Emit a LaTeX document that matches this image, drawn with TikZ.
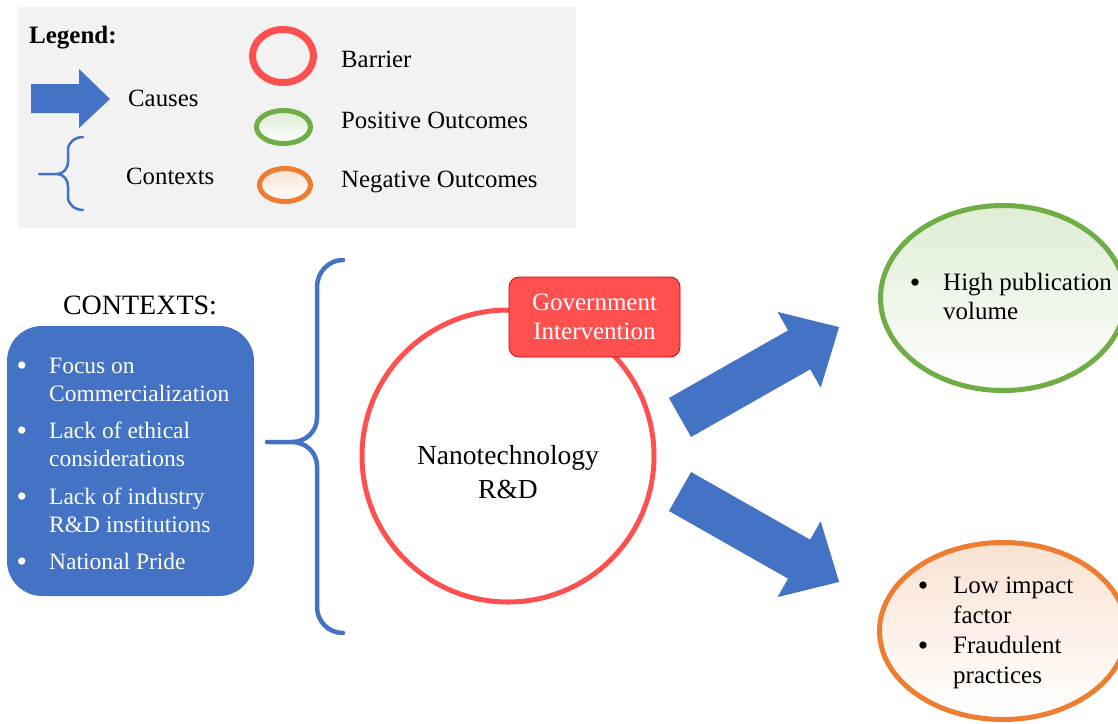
\documentclass[tikz,border=0pt]{standalone}
\usepackage{fontspec}
\setmainfont{Liberation Serif}
\usetikzlibrary{shapes.geometric,positioning,calc}
\definecolor{boxblue}{RGB}{68,114,196}
\definecolor{barred}{RGB}{255,80,80}
\definecolor{posgreen}{RGB}{112,173,71}
\definecolor{negorange}{RGB}{237,125,49}
\definecolor{legendgray}{RGB}{242,242,242}
\definecolor{posfill}{RGB}{222,237,212}
\definecolor{negfill}{RGB}{250,226,210}

\begin{document}
\begin{tikzpicture}[x=1pt,y=-1pt,
    lbl/.style={font=\fontsize{24.8}{28}\selectfont,inner sep=0pt,anchor=base west},
    ctxt/.style={font=\fontsize{23.5}{28}\selectfont,inner sep=0pt,anchor=base west,text=white},
    outtxt/.style={font=\fontsize{25}{30}\selectfont,inner sep=0pt,anchor=base west},
    dot/.style={font=\fontsize{30}{32}\selectfont,inner sep=0pt,anchor=base},
    bracket/.style={boxblue,line cap=round}]
  \useasboundingbox (0,0) rectangle (1118,723);
  \clip (0,0) rectangle (1118,723);

  % legend
  \fill[legendgray] (18,7) rectangle (576,228);
  \node[lbl,font=\fontsize{25}{28}\selectfont\bfseries] (leg) at (29,43) {Legend:};
  \fill[boxblue] (31,84) -- (79,84) -- (79,69) -- (110,99) -- (79,128) -- (79,113) -- (31,113) -- cycle;
  \node[lbl] (causes) at (128,106) {Causes};
  \draw[bracket,line width=2.5pt] (83,137) to[out=180,in=90] (68,150) -- (68,162) to[out=-90,in=0] (57,174) -- (39,174)
    (57,174) to[out=0,in=90] (68,186) -- (68,197) to[out=-90,in=180] (83,210);
  \node[lbl] (contexts) at (126,184) {Contexts};
  \node[ellipse,draw=barred,line width=7pt,minimum width=61,minimum height=53] (legbar) at (283,56) {};
  \node[ellipse,draw=posgreen,line width=5pt,minimum width=54,minimum height=33,top color=posfill,bottom color=white] (legpos) at (283.5,127) {};
  \node[ellipse,draw=negorange,line width=5pt,minimum width=51,minimum height=33,top color=negfill,bottom color=white] (legneg) at (285,185) {};
  \node[lbl] (barrier) at (341,67) {Barrier};
  \node[lbl] (positive) at (341,128) {Positive Outcomes};
  \node[lbl] (negative) at (341,187) {Negative Outcomes};

  % contexts
  \node[font=\fontsize{28}{32}\selectfont,inner sep=0pt,anchor=base] (ctxhead) at (140,314) {CONTEXTS:};
  \node[fill=boxblue,rounded corners=35pt,minimum width=247,minimum height=270] (ctx) at (130.5,461) {};
  \foreach \y/\t in {373/Focus on,401/Commercialization,438/Lack of ethical,466/considerations,
    504/Lack of industry,532/R\&D institutions,569/National Pride}
    \node[ctxt] (ctx\y) at (49,\y) {\t};
  \foreach \y in {373,438,504,569}
    \node[dot,text=white] (ctxdot\y) at (22,\y+2) {•};
  \draw[bracket,line width=4.5pt] (343,260) to[out=180,in=90] (317,287) -- (317,418) to[out=-90,in=0] (292,442) -- (267,442)
    (292,442) to[out=0,in=90] (317,466) -- (317,607) to[out=-90,in=180] (343,633);

  % barrier
  \node[circle,draw=barred,line width=5pt,minimum size=292,fill=white] (rnd) at (508,456) {};
  \node[font=\fontsize{27.5}{33}\selectfont,inner sep=0pt,anchor=base] (rndtxt) at (508,464) {Nanotechnology};
  \node[font=\fontsize{27.5}{33}\selectfont,inner sep=0pt,anchor=base] (rndtxt2) at (508,498) {R\&D};
  \node[fill=barred,draw=red!85!black,line width=0.8pt,rounded corners=10pt,minimum width=171,minimum height=80,
    text=white,align=center,font=\fontsize{25}{30}\selectfont,inner sep=0pt] (gov) at (594.5,317) {Government\\[-1pt]Intervention};

  % causes
  \foreach \a/\yy in {29.6/417.5,-29.6/491.5}
    \fill[boxblue,shift={(680,\yy)},rotate=\a] (0,-22.4) -- (137,-22.4) -- (137,-43.6) -- (183,0) -- (137,43.6) -- (137,22.4) -- (0,22.4) -- cycle;

  % outcomes
  \node[ellipse,draw=posgreen,line width=5pt,minimum width=245,minimum height=185,top color=posfill,bottom color=white] (pos) at (1003,298) {};
  \node[dot] (posdot) at (915,292) {•};
  \node[outtxt] (pos1) at (943,290) {High publication};
  \node[outtxt] (pos2) at (943,319) {volume};
  \node[ellipse,draw=negorange,line width=5pt,minimum width=247,minimum height=177,top color=negfill,bottom color=white] (neg) at (1003,631) {};
  \foreach \y in {593,653}
    \node[dot] (negdot\y) at (923,\y+2) {•};
  \foreach \y/\t in {593/Low impact,623/factor,653/Fraudulent,683/practices}
    \node[outtxt] (neg\y) at (953,\y) {\t};
\end{tikzpicture}
\end{document}
